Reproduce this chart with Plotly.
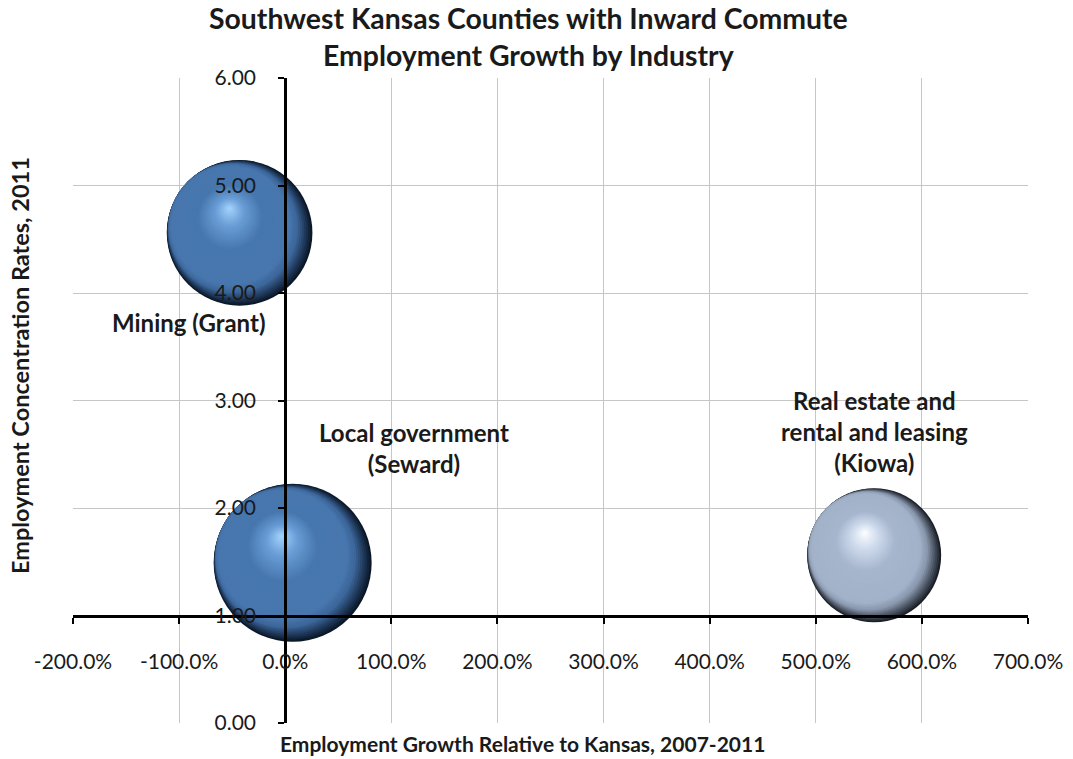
import math
import plotly.graph_objects as go

# ---- data ----
industries = ["Mining (Grant)", "Local government (Seward)",
              "Real estate and rental and leasing (Kiowa)"]
label_text = ["Mining (Grant)", "Local government<br>(Seward)",
              "Real estate and<br>rental and leasing<br>(Kiowa)"]
growth_vs_kansas = [-0.43, 0.07, 5.55]        # employment growth relative to Kansas, 2007-2011
concentration = [4.56, 1.49, 1.56]            # employment concentration rate, 2011
bubble_value = [0.85, 1.00, 0.72]             # relative bubble size (area)
x_ticks = [-2, -1, 0, 1, 2, 3, 4, 5, 6, 7]
x_tick_labels = ["-200.0%", "-100.0%", "0.0%", "100.0%", "200.0%",
                 "300.0%", "400.0%", "500.0%", "600.0%", "700.0%"]
y_ticks = [0, 1, 2, 3, 4, 5, 6]

# ---- style ----
W, H = 1073, 759
ML, MR, MT, MB = 73, 45, 78, 36
PW, PH = W - ML - MR, H - MT - MB
XR, YR = [-2, 7], [0, 6]
px_x = PW / (XR[1] - XR[0])
px_y = PH / (YR[1] - YR[0])
MAX_D = 158
FONT = "Lato"
TXT = "#1a1a1a"

blue_stops = [(0.0, "#0b1828"), (0.04, "#1c3454"), (0.11, "#3d679b"), (0.18, "#4877ae"),
              (0.55, "#4777ae"), (0.8, "#6a9dd6"), (1.0, "#a6d6ff")]
grey_stops = [(0.0, "#1b2028"), (0.04, "#444d5a"), (0.11, "#8b99af"), (0.18, "#a2b2c9"),
              (0.55, "#a6b6cd"), (0.8, "#cfdbed"), (1.0, "#ffffff")]
bubble_stops = [blue_stops, blue_stops, grey_stops]


def hex2rgb(h):
    h = h.lstrip("#")
    return [int(h[i:i + 2], 16) for i in (0, 2, 4)]


def shade(stops, t):
    for (t0, c0), (t1, c1) in zip(stops[:-1], stops[1:]):
        if t <= t1:
            f = (t - t0) / (t1 - t0) if t1 > t0 else 0
            a, b = hex2rgb(c0), hex2rgb(c1)
            return "rgb(%d,%d,%d)" % tuple(round(a[j] + (b[j] - a[j]) * f) for j in range(3))
    return stops[-1][1]


fig = go.Figure()

N = 64
T1 = 0.15
rim_dir = (-0.8, 0.6)       # unit direction (screen up-left) the dark rim is pushed away from
for i in range(len(industries)):
    x, y = growth_vs_kansas[i], concentration[i]
    d = MAX_D * math.sqrt(bubble_value[i])
    R = d / 2
    ax, ay = T1 * R * rim_dir[0], T1 * R * rim_dir[1]
    hx, hy = -0.14 * R, 0.34 * R          # highlight offset in px (up-left)
    xs, ys, ss, cs = [], [], [], []
    for k in range(N):
        t = k / N
        if t <= T1:
            ox, oy = t * R * rim_dir[0], t * R * rim_dir[1]
        else:
            lam = (t - T1) / (1 - T1)
            ox, oy = ax + (hx - ax) * lam, ay + (hy - ay) * lam
        xs.append(x + ox / px_x)
        ys.append(y + oy / px_y)
        ss.append(d * (1 - t))
        cs.append(shade(bubble_stops[i], t))
    fig.add_trace(go.Scatter(
        x=xs, y=ys, mode="markers", showlegend=False, hoverinfo="skip",
        name=industries[i],
        marker=dict(size=ss, sizemode="diameter", color=cs, line=dict(width=0), opacity=1)))

# data labels
label_shift = [(-51, -90), (121, 115), (0, 124)]
for i in range(len(industries)):
    fig.add_annotation(
        x=growth_vs_kansas[i], y=concentration[i], xref="x", yref="y",
        text="<b>" + label_text[i] + "</b>", showarrow=False,
        xshift=label_shift[i][0], yshift=label_shift[i][1],
        font=dict(family=FONT, size=24, color=TXT), align="center")

# title and axis titles
fig.add_annotation(
    text="<b>Southwest Kansas Counties with Inward Commute<br>Employment Growth by Industry</b>",
    xref="paper", yref="paper", x=(528 - ML) / PW, y=1 + (MT - 36.5) / PH,
    xanchor="center", yanchor="middle", showarrow=False, align="center",
    font=dict(family=FONT, size=28.4, color=TXT))
fig.add_annotation(
    text="<b>Employment Growth Relative to Kansas, 2007-2011</b>",
    xref="paper", yref="paper", x=(522 - ML) / PW, y=-(743 - MT - PH) / PH,
    xanchor="center", yanchor="middle", showarrow=False,
    font=dict(family=FONT, size=21, color=TXT))
fig.add_annotation(
    text="<b>Employment Concentration Rates, 2011</b>",
    xref="paper", yref="paper", x=-(ML - 20) / PW, y=1 - (366 - MT) / PH,
    xanchor="center", yanchor="middle", showarrow=False, textangle=-90,
    font=dict(family=FONT, size=23.5, color=TXT))

axis_common = dict(
    domain=[0, 1], anchor="free", automargin=False,
    showgrid=True, gridcolor="#c6c6c6", gridwidth=1, zeroline=False,
    showline=True, linecolor="black", linewidth=3,
    ticks="outside", ticklen=6, tickwidth=2, tickcolor="black",
    tickfont=dict(family=FONT, size=21, color=TXT),
    fixedrange=True)

fig.update_layout(
    width=W, height=H,
    margin=dict(l=ML, r=MR, t=MT, b=MB, pad=0, autoexpand=False),
    paper_bgcolor="white", plot_bgcolor="white",
    showlegend=False,
    xaxis=dict(range=XR, tickvals=x_ticks, ticktext=x_tick_labels,
               position=(1 - YR[0]) / (YR[1] - YR[0]),
               ticklabelstandoff=20, **axis_common),
    yaxis=dict(range=YR, tickvals=y_ticks, tickformat=".2f",
               position=(0 - XR[0]) / (XR[1] - XR[0]),
               ticklabelstandoff=18, **axis_common),
)

# remove the browser's default 8px page margin so the figure sits at the window origin
fig.write_html("out.html", config={"displayModeBar": False},
               post_script="document.body.style.margin='0';document.body.style.overflow='hidden';")
